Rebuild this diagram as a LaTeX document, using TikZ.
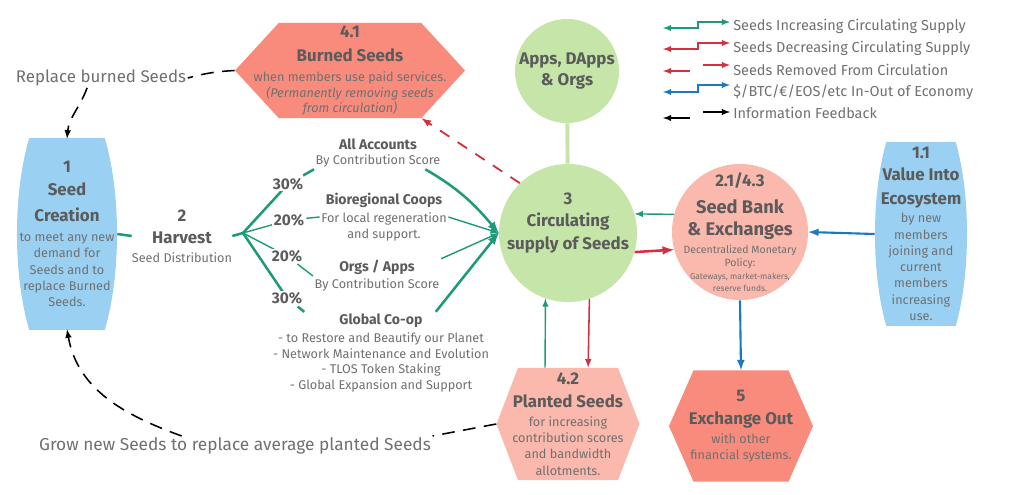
\documentclass[tikz,border=0pt]{standalone}
\usepackage{fontspec}
\setmainfont{Fira Sans}
\usetikzlibrary{calc}
\definecolor{1e9a78}{HTML}{1E9A78}
\definecolor{d2313f}{HTML}{D2313F}
\definecolor{1b78c2}{HTML}{1B78C2}
\definecolor{9ad1f3}{HTML}{9AD1F3}
\definecolor{f98b7d}{HTML}{F98B7D}
\definecolor{fbb8ac}{HTML}{FBB8AC}
\definecolor{c6e6a9}{HTML}{C6E6A9}
\definecolor{5b5b5b}{HTML}{5B5B5B}
\definecolor{707070}{HTML}{707070}
\newcommand{\hd}[1]{{\fontsize{12}{14}\selectfont\bfseries\color{5b5b5b}#1}}
\newcommand{\sub}[1]{{\fontsize{10}{12}\selectfont\bfseries\color{5b5b5b}#1}}
\tikzset{
  barrel/.style={path picture={\fill[#1] let \p1=($(path picture bounding box.north east)-(path picture bounding box.center)$) in (path picture bounding box.center) ellipse ({\x1} and {1.54*\y1});}},
  hexa/.style 2 args={path picture={\fill[#1] (path picture bounding box.west)
    -- ($(path picture bounding box.north west)!#2!(path picture bounding box.north east)$)
    -- ($(path picture bounding box.north east)!#2!(path picture bounding box.north west)$)
    -- (path picture bounding box.east)
    -- ($(path picture bounding box.south east)!#2!(path picture bounding box.south west)$)
    -- ($(path picture bounding box.south west)!#2!(path picture bounding box.south east)$) -- cycle;}}
}

\begin{document}
\begin{tikzpicture}[>=latex,x=0.025cm,y=0.025cm,
  txt/.style={align=center,text=707070,inner sep=0pt,font=\fontsize{9}{11.6}\selectfont},
  flow/.style={1e9a78,line width=1.8pt},
  flowthin/.style={1e9a78,line width=1pt},
  drain/.style={d2313f,line width=1.8pt},
  drainthin/.style={d2313f,line width=1.1pt},
  cash/.style={1b78c2,line width=1.5pt},
  removed/.style={d2313f,line width=1.3pt,dash pattern=on 8pt off 7pt},
  feedback/.style={black,line width=1.1pt,dash pattern=on 9pt off 6pt},
  pct/.style={txt,fill=white,inner sep=1pt,font=\fontsize{11}{13}\selectfont\bfseries,text=5b5b5b},
  share/.style={txt,fill=white,inner sep=1pt,font=\fontsize{9}{11.3}\selectfont},
  key/.style={anchor=west,text=707070,inner sep=0pt,font=\fontsize{10.3}{12}\selectfont}]
    \useasboundingbox (0,0) rectangle (1024,-494);
    % legend
    \draw[1e9a78,line width=1pt,<->](663,-28)--(698,-28)--(698,-22)--(730,-22);
    \node[key](kgrow)at(733,-26){Seeds Increasing Circulating Supply};
    \draw[d2313f,line width=1pt,<->](663,-49)--(698,-49)--(698,-43)--(730,-43);
    \node[key](kdrain)at(733,-48){Seeds Decreasing Circulating Supply};
    \draw[d2313f,line width=1pt,<-](663,-71)--(690,-71);
    \draw[d2313f,line width=1pt,->](703,-65)--(730,-65);
    \node[key](kremove)at(733,-70){Seeds Removed From Circulation};
    \draw[1b78c2,line width=1pt,<->](663,-92)--(698,-92)--(698,-85)--(730,-85);
    \node[key](kcash)at(733,-92){\$/BTC/€/EOS/etc In-Out of Economy};
    \draw[black,line width=1pt,<-](663,-118)--(690,-118);
    \draw[black,line width=1pt,->](703,-112)--(730,-112);
    \node[key](kinfo)at(733,-113){Information Feedback};
    % seed creation and value in
    \node[txt,barrel=9ad1f3,minimum width=2.5cm,minimum height=4.75cm](seed)at(67,-234)
        {\hd{1}\\[4.5pt]\hd{Seed}\\[7.3pt]\hd{Creation}\\[2.4pt]to meet any new\\demand for\\Seeds and to\\replace Burned\\Seeds.};
    \node[txt,barrel=9ad1f3,minimum width=2.3cm,minimum height=4.55cm](value)at(921,-234)
        {\hd{1.1}\\[4pt]\hd{Value Into}\\[5.5pt]\hd{Ecosystem}\\[1.2pt]by new\\members\\joining and\\current\\members\\increasing\\use.};
    % hexagons
    \node[txt,font=\fontsize{9}{10.8}\selectfont,hexa={f98b7d}{0.19},minimum width=5.75cm,minimum height=2.375cm](burn)at(350,-70.5)
        {\hd{4.1}\\[6.5pt]\hd{Burned Seeds}\\[3pt]when members use paid services.\\[0.8pt]\textit{(Permanently removing seeds}\\\textit{from circulation)}};
    \node[txt,hexa={fbb8ac}{0.15},minimum width=3.575cm,minimum height=2.8cm](planted)at(568,-424)
        {\hd{4.2}\\[4.5pt]\hd{Planted Seeds}\\[1.9pt]for increasing\\contribution scores\\and bandwidth\\allotments.};
    \node[txt,hexa={f98b7d}{0.17},minimum width=3.6cm,minimum height=2.775cm](exout)at(741,-426)
        {\hd{5}\\[4.5pt]\hd{Exchange Out}\\[1.9pt]with other\\financial systems.};
    % circles
    \node[circle,fill=c6e6a9,minimum size=2.6cm,inner sep=0pt,
        label={[txt]center:{\hd{Apps, DApps}\\[3.4pt]\hd{\& Orgs}}}](apps)at(567,-71){};
    \node[circle,fill=c6e6a9,minimum size=3.45cm,inner sep=0pt,
        label={[txt,yshift=0.25cm]center:{\hd{3}\\[4pt]\hd{Circulating}\\[4pt]\hd{supply of Seeds}}}](supply)at(568,-233){};
    \node[circle,fill=fbb8ac,minimum size=3.4cm,inner sep=0pt,
        label={[txt,font=\fontsize{7}{8.4}\selectfont]center:{\hd{2.1/4.3}\\[7.5pt]{\fontsize{13}{15}\selectfont\bfseries\color{5b5b5b}Seed Bank}\\[4.5pt]{\fontsize{13}{15}\selectfont\bfseries\color{5b5b5b}\& Exchanges}\\[2.7pt]{\fontsize{7.5}{9}\selectfont Decentralized Monetary}\\[1pt]{\fontsize{7.5}{9}\selectfont Policy:}\\[1pt]{\fontsize{6}{7}\selectfont Gateways, market-makers,}\\{\fontsize{6}{7}\selectfont reserve funds.}}}](bank)at(740,-232){};
    % harvest and its shares
    \node[txt](harvest)at(182,-236){\hd{2}\\[4pt]\hd{Harvest}\\[1.9pt]Seed Distribution};
    \coordinate(split)at(243,-233);
    \node[share](accounts)at(378,-153){\sub{All Accounts}\\By Contribution Score};
    \node[share](bioreg)at(384,-217){\sub{Bioregional Coops}\\[1.5pt]For local regeneration\\and support.};
    \node[share](orgs)at(377,-276){\sub{Orgs / Apps}\\[0.7pt]By Contribution Score};
    \node[share](global)at(381,-353){\sub{Global Co-op}\\[1.5pt]- to Restore and Beautify our Planet\\- Network Maintenance and Evolution\\- TLOS Token Staking\\- Global Expansion and Support};
    \draw[flow](seed.east)--(harvest.west);
    \draw[flow](harvest.east)--(split);
    \draw[flow](split)--(288,-184)node[pct](pA){30\%};
    \draw[flowthin](split)--(289,-220)node[pct](pB){20\%};
    \draw[flowthin](split)--(287,-256)node[pct](pC){20\%};
    \draw[flow](split)--(287,-298)node[pct](pD){30\%};
    \draw[flow](pA)--(accounts.south west);
    \draw[flowthin](pB)--(bioreg.west);
    \draw[flowthin](pC)--(orgs.west);
    \draw[flow](pD)--($(global.north west)!0.15!(global.north east)$);
    \draw[flow,->]($(accounts.south east)!0.13!(accounts.south west)$)to[out=-30,in=130](supply.west);
    \draw[flowthin,->](bioreg.east)--(supply.west);
    \draw[flowthin,->](orgs.north east)--(supply.west);
    \draw[flow,->]($(global.north west)!0.75!(global.north east)$)--(supply.west);
    % exchanges
    \draw[c6e6a9,line width=2.8pt](apps)--(supply);
    \draw[flowthin,->](bank.165)--(supply.16);
    \draw[drain,->](supply.-16)--(bank.-165);
    \draw[cash,->](value.west)--(bank.east);
    \draw[cash,->](bank.south)--(exout.north);
    \draw[flowthin,->]($(planted.north west)!0.34!(planted.north east)$)--(supply.-109);
    \draw[drainthin,->](supply.-72)--($(planted.north west)!0.64!(planted.north east)$);
    \draw[removed,->](supply.134)--($(burn.south east)!0.19!(burn.south west)$);
    % feedback
    \node[txt,fill=white,inner sep=1pt,font=\fontsize{12}{14}\selectfont](replace)at(101,-78){Replace burned Seeds};
    \node[txt,fill=white,inner sep=1pt,font=\fontsize{12.3}{14}\selectfont](regrow)at(235,-446){Grow new Seeds to replace average planted Seeds};
    \draw[feedback](burn.west)to[bend right=6](replace.east);
    \draw[feedback,->]($(replace.south west)!0.42!(replace.south east)$)to[out=-110,in=85](seed.north);
    \draw[feedback](planted.west)--(regrow.north east);
    \draw[feedback,->]($(regrow.north)!0.27!(regrow.north west)$)to[out=160,in=-80](seed.south);
\end{tikzpicture}
\end{document}
